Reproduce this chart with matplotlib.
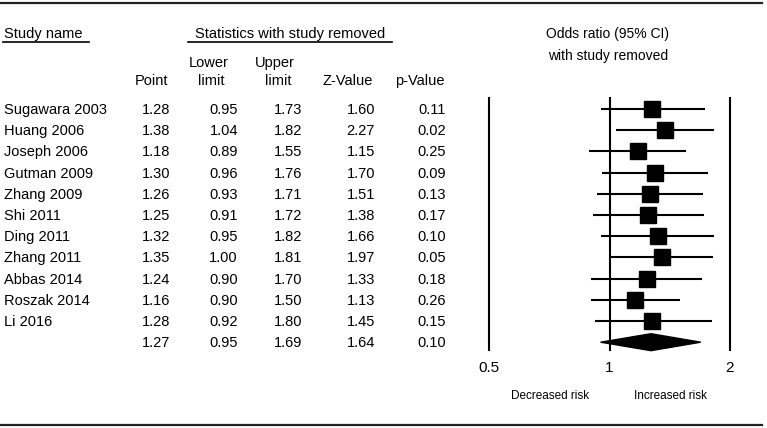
import numpy as np
import matplotlib
matplotlib.use("Agg")
import matplotlib.pyplot as plt
from matplotlib.patches import Polygon

plt.rcParams['font.family'] = ['Liberation Sans', 'DejaVu Sans']

# data
studies = ['Sugawara 2003', 'Huang 2006', 'Joseph 2006', 'Gutman 2009', 'Zhang 2009',
           'Shi 2011', 'Ding 2011', 'Zhang 2011', 'Abbas 2014', 'Roszak 2014', 'Li 2016']
point = [1.28, 1.38, 1.18, 1.30, 1.26, 1.25, 1.32, 1.35, 1.24, 1.16, 1.28]
lower = [0.95, 1.04, 0.89, 0.96, 0.93, 0.91, 0.95, 1.00, 0.90, 0.90, 0.92]
upper = [1.73, 1.82, 1.55, 1.76, 1.71, 1.72, 1.82, 1.81, 1.70, 1.50, 1.80]
zval = [1.60, 2.27, 1.15, 1.70, 1.51, 1.38, 1.66, 1.97, 1.33, 1.13, 1.45]
pval = [0.11, 0.02, 0.25, 0.09, 0.13, 0.17, 0.10, 0.05, 0.18, 0.26, 0.15]
overall = {'point': 1.27, 'lower': 0.95, 'upper': 1.69, 'z': 1.64, 'p': 0.10}
xticks = [0.5, 1, 2]
xticklabels = ['0.5', '1', '2']

W, H = 767, 428
fig = plt.figure(figsize=(W / 100, H / 100), dpi=100)

# background axes in pixel coordinates for the table part
bg = fig.add_axes([0, 0, 1, 1])
bg.set_xlim(0, W)
bg.set_ylim(H, 0)
bg.axis('off')

fs = 10.5
row0, dy = 109, 21.2
n = len(studies)

# rules
bg.plot([0, 762], [3, 3], color='#222222', lw=1.6)
bg.plot([0, 762], [425, 425], color='#222222', lw=1.6)

# headers
bg.text(4, 34, 'Study name', fontsize=fs, ha='left', va='center')
bg.plot([3, 89], [42, 42], color='black', lw=1.2)
bg.text(290, 34, 'Statistics with study removed', fontsize=fs, ha='center', va='center')
bg.plot([188, 392], [42, 42], color='black', lw=1.2)
bg.text(152, 81, 'Point', fontsize=fs, ha='center', va='center')
bg.text(209, 63, 'Lower', fontsize=fs, ha='center', va='center')
bg.text(211, 81, 'limit', fontsize=fs, ha='center', va='center')
bg.text(275, 63, 'Upper', fontsize=fs, ha='center', va='center')
bg.text(278, 81, 'limit', fontsize=fs, ha='center', va='center')
bg.text(373, 81, 'Z-Value', fontsize=fs, ha='right', va='center')
bg.text(445, 81, 'p-Value', fontsize=fs, ha='right', va='center')
bg.text(608, 34, 'Odds ratio (95% CI)', fontsize=10, ha='center', va='center')
bg.text(608, 56, 'with study removed', fontsize=10, ha='center', va='center')

# table rows
cols_x = [170, 238, 302, 375, 446]
for i in range(n):
    y = row0 + dy * i + 1
    bg.text(4, y, studies[i], fontsize=fs, ha='left', va='center')
    vals = [point[i], lower[i], upper[i], zval[i], pval[i]]
    for cx, v in zip(cols_x, vals):
        bg.text(cx, y, f'{v:.2f}', fontsize=fs, ha='right', va='center')
y = row0 + dy * n + 1
for cx, v in zip(cols_x, [overall['point'], overall['lower'], overall['upper'],
                          overall['z'], overall['p']]):
    bg.text(cx, y, f'{v:.2f}', fontsize=fs, ha='right', va='center')

# forest plot axes: 0.5 -> x=489, 2 -> x=730; y from 98 to 350 px
top_px, bot_px = 98, 350
ax = fig.add_axes([489 / W, 1 - bot_px / H, (730 - 489) / W, (bot_px - top_px) / H])
ax.set_xscale('log')
ax.set_xlim(0.5, 2)
ax.set_ylim((bot_px - row0) / dy, (top_px - row0) / dy)
for s in ax.spines.values():
    s.set_visible(False)
ax.set_yticks([])
ax.set_xticks(xticks)
ax.set_xticklabels(xticklabels, fontsize=11)
ax.xaxis.set_minor_locator(matplotlib.ticker.NullLocator())
ax.tick_params(axis='x', length=0, pad=8)
ax.patch.set_alpha(0)

for xv in xticks:
    ax.axvline(xv, color='black', lw=1.5, clip_on=False)

rows = np.arange(n)
ax.hlines(rows, lower, upper, color='black', lw=1.5, clip_on=False)
ax.plot(point, rows, 's', color='black', ms=12, clip_on=False)

h = 0.4
diamond = Polygon([(overall['lower'], n), (overall['point'], n - h),
                   (overall['upper'], n), (overall['point'], n + h)],
                  closed=True, color='black', clip_on=False)
ax.add_patch(diamond)

bg.text(550, 396, 'Decreased risk', fontsize=8.5, ha='center', va='center')
bg.text(670, 396, 'Increased risk', fontsize=8.5, ha='center', va='center')

fig.savefig('out.png', dpi=100)
